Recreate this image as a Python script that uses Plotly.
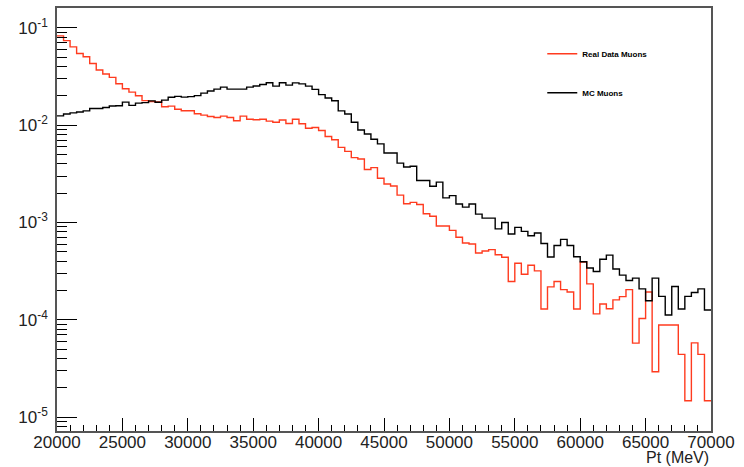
import numpy as np
import plotly.graph_objects as go

# Histogram binning: 100 bins of 500 MeV from 20000 to 70000
bin_edges = np.arange(20000, 70001, 500)

real_data_muons = [
    0.0828, 0.0741, 0.0639, 0.0546, 0.0505, 0.0431, 0.0369, 0.0336, 0.0310, 0.0267,
    0.0237, 0.0219, 0.0201, 0.0179, 0.0175, 0.0173, 0.0155, 0.0157, 0.0146, 0.0141,
    0.0141, 0.0131, 0.0127, 0.0123, 0.0120, 0.0124, 0.0120, 0.0111, 0.0124, 0.0115,
    0.01136, 0.0115, 0.0110, 0.01073, 0.01130, 0.0104, 0.0115, 0.01036, 0.00932, 0.00947,
    0.00883, 0.00766, 0.00709, 0.00591, 0.00538, 0.00464, 0.00449, 0.00350, 0.00366, 0.00285,
    0.00249, 0.00237, 0.00191, 0.00156, 0.00161, 0.00153, 0.00123, 0.00116, 0.000919, 0.000919,
    0.000830, 0.000704, 0.000615, 0.000601, 0.000486, 0.000510, 0.000526, 0.000466, 0.000439, 0.000247,
    0.000381, 0.000294, 0.000364, 0.000318, 0.000129, 0.000218, 0.000247, 0.000204, 0.000193, 0.000129,
    0.000393, 0.000234, 0.000115, 0.000145, 0.000130, 0.000160, 0.000173, 0.000204, 0.0000576, 0.000103,
    0.000193, 0.0000292, 0.0000885, 0.0000885, 0.0000885, 0.0000441, 0.0000147, 0.0000579, 0.0000441, 0.0000147,
]

mc_muons = [
    0.01248, 0.01302, 0.01339, 0.01365, 0.01404, 0.01483, 0.01483, 0.01518, 0.01573, 0.01584,
    0.01727, 0.01599, 0.01687, 0.01707, 0.01778, 0.01720, 0.01811, 0.01935, 0.01976, 0.01944,
    0.01967, 0.02014, 0.02136, 0.02250, 0.02347, 0.02460, 0.02347, 0.02347, 0.02347, 0.02460,
    0.02531, 0.02621, 0.02735, 0.02519, 0.02735, 0.02579, 0.02723, 0.02660, 0.02519, 0.02336,
    0.02062, 0.01907, 0.01781, 0.01404, 0.01302, 0.01073, 0.00893, 0.00813, 0.00717, 0.00642,
    0.00517, 0.00517, 0.00408, 0.00372, 0.00378, 0.00270, 0.00270, 0.00236, 0.00260, 0.00179,
    0.00189, 0.00155, 0.00144, 0.00155, 0.00122, 0.00111, 0.00111, 0.000860, 0.00100, 0.000761,
    0.000891, 0.000811, 0.000731, 0.000779, 0.000608, 0.000442, 0.000580, 0.000671, 0.000580, 0.000445,
    0.000395, 0.000341, 0.000313, 0.000419, 0.000462, 0.000333, 0.000288, 0.000253, 0.000268, 0.000208,
    0.000157, 0.000268, 0.000174, 0.000112, 0.000220, 0.000129, 0.000174, 0.000191, 0.000208, 0.000126,
]

x_tick_vals = [20000, 25000, 30000, 35000, 40000, 45000, 50000, 55000, 60000, 65000, 70000]
x_tick_text = [str(v) for v in x_tick_vals]
y_tick_vals = [1e-1, 1e-2, 1e-3, 1e-4, 1e-5]
y_tick_text = ["10<sup>-1</sup>", "10<sup>-2</sup>", "10<sup>-3</sup>", "10<sup>-4</sup>", "10<sup>-5</sup>"]
y_minor_vals = [k * 10.0 ** e for e in range(-6, 0) for k in range(2, 10)]

RED = "#ff3b1f"
BLACK = "#000000"
FONT = "Liberation Sans, Arial, Helvetica, sans-serif"


def step_y(vals):
    return list(vals) + [vals[-1]]


fig = go.Figure()
fig.add_trace(go.Scatter(
    x=bin_edges, y=step_y(real_data_muons), mode="lines", line_shape="hv",
    line=dict(color=RED, width=1.4), name="Real Data Muons", legendgroup="a",
))
fig.add_trace(go.Scatter(
    x=bin_edges, y=step_y(mc_muons), mode="lines", line_shape="hv",
    line=dict(color=BLACK, width=1.4), name="MC Muons", legendgroup="b",
))

fig.update_layout(
    width=744, height=467,
    margin=dict(l=57, r=33, t=6, b=36),
    paper_bgcolor="white", plot_bgcolor="white",
    font=dict(family=FONT, color="black"),
    showlegend=True,
    legend=dict(
        x=0.742, y=0.926, xanchor="left", yanchor="top",
        traceorder="grouped", tracegroupgap=20,
        font=dict(size=8, family=FONT, color="black", weight="bold"),
        bgcolor="rgba(0,0,0,0)", borderwidth=0,
    ),
    xaxis=dict(
        range=[20000, 70000],
        tickmode="array", tickvals=x_tick_vals, ticktext=x_tick_text,
        ticks="inside", ticklen=13, tickwidth=1, tickcolor="black",
        minor=dict(ticks="inside", ticklen=6, dtick=1000, tickcolor="black", tickwidth=1),
        showgrid=False, zeroline=False,
        showline=True, linecolor="#555555", linewidth=1.5, mirror=True,
        tickfont=dict(size=17, family=FONT, color="#222222"),
        ticklabelstandoff=-5,
    ),
    yaxis=dict(
        type="log",
        range=[-5.1433, -0.7953],
        tickmode="array", tickvals=y_tick_vals, ticktext=y_tick_text,
        ticks="inside", ticklen=20, tickwidth=1, tickcolor="black",
        minor=dict(ticks="inside", ticklen=10, tickmode="array", tickvals=y_minor_vals,
                   tickcolor="black", tickwidth=1),
        showgrid=False, zeroline=False,
        showline=True, linecolor="#555555", linewidth=1.5, mirror=True,
        tickfont=dict(size=17, family=FONT, color="#222222"),
        ticklabelstandoff=4,
    ),
    annotations=[dict(
        text="Pt (MeV)", xref="paper", yref="paper", x=1.0, y=0, xanchor="right", yanchor="top",
        yshift=-16, showarrow=False, font=dict(size=16, family=FONT, color="#222222"),
    )],
)

fig.write_html("out.html")
